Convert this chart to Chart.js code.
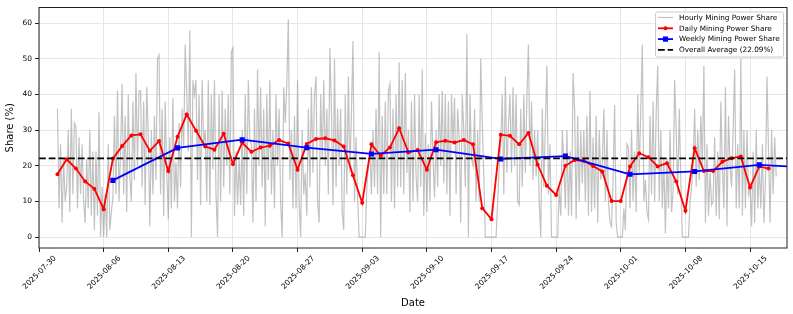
<!DOCTYPE html>
<html lang="en">

<head>
  <meta charset="UTF-8" />
  <title>Mining Power Share</title>
  <script src="https://cdn.jsdelivr.net/npm/chart.js"></script>
  <style>
    body {
      margin: 0;
      background: #fff;
    }

    #grafico {
      display: block;
    }
  </style>
</head>

<body>
  <canvas id="grafico" width="793" height="314"></canvas>

  <script>
    // Day 0 of the x axis is 2025-07-30 (UTC)
    const startDate = Date.UTC(2025, 6, 30);
    const xMin = 0;
    const xMax = 81;
    const xTicks = [0, 7, 14, 21, 28, 35, 42, 49, 56, 63, 70, 77];
    const yTicks = [0, 10, 20, 30, 40, 50, 60];
    const yMin = -3.07;
    const yMax = 64.37;

    const avgShare = 22.09;

    // Hourly share, read every 4 hours from 2025-08-01 00:00 (day 2), 6 values per day
    const hourlyStartDay = 2;
    const hourlyStep = 1 / 6;
    const hourlyShare = [
      36, 8, 26, 4, 22, 10, 14, 30, 7, 36, 12, 32,
      31, 8, 28, 12, 26, 10, 4, 22, 8, 30, 6, 24,
      2, 24, 6, 35, 0, 14, 0, 12, 0, 26, 2, 7,
      11, 34, 12, 41, 10, 24, 43, 12, 34, 7, 40, 17,
      10, 38, 16, 46, 20, 41, 41, 14, 38, 9, 42, 29,
      3, 30, 12, 34, 16, 50, 51, 12, 36, 6, 38, 18,
      5, 28, 8, 39, 10, 21, 8, 32, 14, 36, 25, 54,
      40, 24, 58, 0, 44, 40, 44, 16, 40, 9, 44, 26,
      30, 10, 44, 9, 40, 19, 44, 12, 0, 40, 10, 41,
      14, 36, 20, 40, 12, 52, 53, 6, 24, 9, 22, 9,
      30, 6, 40, 12, 44, 27, 26, 4, 36, 10, 47, 20,
      42, 14, 36, 3, 40, 16, 44, 12, 30, 8, 40, 20,
      36, 10, 0, 42, 32, 43, 61, 16, 30, 8, 34, 8,
      44, 10, 0, 30, 12, 18, 6, 36, 14, 42, 18, 40,
      45, 10, 4, 40, 22, 44, 20, 36, 12, 53, 36, 9,
      50, 14, 36, 20, 36, 7, 2, 40, 12, 45, 18, 35,
      55, 10, 28, 11, 0, 0, 0, 0, 0, 14, 20, 24,
      12, 30, 14, 36, 12, 52, 0, 34, 12, 38, 12, 41,
      43, 10, 36, 8, 40, 14, 49, 14, 44, 12, 46, 18,
      30, 7, 38, 10, 40, 17, 10, 40, 14, 47, 6, 29,
      7, 26, 10, 38, 22, 11, 30, 14, 40, 20, 41, 15,
      40, 12, 38, 6, 40, 26, 39, 12, 36, 28, 4, 40,
      30, 14, 57, 0, 40, 22, 20, 36, 10, 30, 10, 50,
      32, 17, 0, 0, 0, 0, 0, 0, 0, 0, 10, 20,
      26, 40, 12, 45, 18, 31, 40, 18, 42, 20, 40, 10,
      9, 36, 14, 40, 18, 39, 54, 20, 38, 16, 30, 17,
      30, 10, 0, 36, 14, 32, 48, 12, 26, 0, 0, 0,
      0, 0, 14, 6, 30, 21, 8, 30, 6, 24, 6, 46,
      36, 5, 34, 10, 30, 15, 30, 10, 34, 6, 41, 7,
      28, 8, 34, 4, 30, 16, 20, 36, 10, 30, 10, 4,
      3, 16, 37, 4, 0, 0, 0, 0, 8, 2, 26, 25,
      8, 30, 10, 24, 7, 40, 18, 36, 54, 10, 16, 7,
      5, 34, 12, 38, 10, 35, 48, 10, 30, 8, 22, 1,
      22, 8, 30, 7, 13, 44, 30, 12, 36, 16, 0, 0,
      0, 0, 0, 10, 14, 20, 36, 14, 30, 16, 34, 20,
      48, 4, 26, 6, 18, 9, 10, 28, 6, 24, 5, 38,
      20, 8, 42, 3, 34, 20, 14, 30, 47, 8, 26, 8,
      50, 6, 30, 8, 30, 12, 14, 3, 24, 4, 30, 8,
      20, 8, 26, 4, 16, 45, 24, 4, 30, 12, 28, 17
    ];

    // Daily share, one value per day from 2025-08-01 (day 2) to 2025-10-17
    const dailyStartDay = 2;
    const dailyShare = [
      17.6, 21.8, 19.2, 15.6, 13.5, 7.8, 22.0, 25.5, 28.5, 28.8,
      24.2, 26.9, 18.5, 28.1, 34.4, 29.8, 25.4, 24.5, 29.0, 20.5,
      26.5, 23.9, 25.1, 25.6, 27.2, 26.2, 18.9, 26.1, 27.5, 27.7,
      27.1,
      25.4, 17.3, 9.6, 26.0, 22.8, 25.1, 30.5, 23.7, 24.4, 18.9,
      26.6, 27.0, 26.5, 27.2, 26.0, 8.1, 5.0, 28.7, 28.4, 26.0,
      29.2, 20.3, 14.4, 11.8, 20.0, 21.6, 21.4, 19.9, 18.4, 10.1,
      10.1, 19.8, 23.5, 22.4, 19.8, 20.7, 15.6, 7.4, 24.9, 18.5,
      18.5, 21.1, 22.1, 22.6, 13.9, 19.8, 19.2
    ];

    // Weekly share, every 7 days from 2025-08-07 (day 8)
    const weeklyStartDay = 8;
    const weeklyShare = [15.9, 25.0, 27.3, 25.05, 23.3, 24.5, 21.9, 22.7, 17.6, 18.4, 20.25, 19.3];

    const hourlyPts = hourlyShare.map((v, i) => ({ x: hourlyStartDay + i * hourlyStep, y: v }));
    const dailyPts = dailyShare.map((v, i) => ({ x: dailyStartDay + i, y: v }));
    const weeklyPts = weeklyShare.map((v, i) => ({ x: weeklyStartDay + i * 7, y: v }));
    const avgPts = [{ x: xMin, y: avgShare }, { x: xMax, y: avgShare }];

    function diaParaData(d) {
      return new Date(startDate + d * 86400000).toISOString().slice(0, 10);
    }

    const fonte = 'DejaVu Sans';

    // legenda no estilo matplotlib, dentro da area do grafico
    const legendaPlugin = {
      id: 'legenda',
      afterDraw(chart) {
        const c = chart.ctx;
        const area = chart.chartArea;
        const w = 128, h = 45;
        const x0 = area.right - 4 - w;
        const y0 = area.top + 4;
        c.save();
        c.fillStyle = 'rgba(255,255,255,0.85)';
        c.strokeStyle = '#cccccc';
        c.lineWidth = 1;
        c.beginPath();
        c.roundRect(x0 + 0.5, y0 + 0.5, w, h, 2);
        c.fill();
        c.stroke();
        c.font = '7.3px ' + fonte;
        c.textBaseline = 'middle';
        chart.data.datasets.forEach((ds, i) => {
          const y = y0 + 6 + i * 10.8;
          const lx = x0 + 3;
          c.strokeStyle = ds.borderColor;
          c.lineWidth = Math.min(ds.borderWidth, 1.8);
          c.setLineDash(ds.borderDash || []);
          c.beginPath();
          c.moveTo(lx, y);
          c.lineTo(lx + 15, y);
          c.stroke();
          c.setLineDash([]);
          if (ds.pointRadius > 0) {
            c.fillStyle = ds.borderColor;
            if (ds.pointStyle === 'rect') {
              c.fillRect(lx + 7.5 - 2.6, y - 2.6, 5.2, 5.2);
            } else {
              c.beginPath();
              c.arc(lx + 7.5, y, 2, 0, Math.PI * 2);
              c.fill();
            }
          }
          c.fillStyle = '#000';
          c.fillText(ds.label, lx + 21, y + 0.5);
        });
        c.restore();
      }
    };

    // moldura do eixo (spines)
    const molduraPlugin = {
      id: 'moldura',
      afterDatasetsDraw(chart) {
        const c = chart.ctx;
        const a = chart.chartArea;
        c.save();
        c.strokeStyle = '#222';
        c.lineWidth = 1;
        c.strokeRect(a.left, a.top, a.right - a.left, a.bottom - a.top);
        c.restore();
      }
    };

    new Chart(document.getElementById('grafico'), {
      type: 'line',
      data: {
        datasets: [{
          label: 'Hourly Mining Power Share',
          data: hourlyPts,
          borderColor: 'rgba(128, 128, 128, 0.48)',
          borderWidth: 1.2,
          pointRadius: 0,
          order: 4
        }, {
          label: 'Daily Mining Power Share',
          data: dailyPts,
          borderColor: '#ff0000',
          backgroundColor: '#ff0000',
          borderWidth: 1.8,
          pointRadius: 2,
          pointBorderWidth: 0,
          pointStyle: 'circle',
          order: 3
        }, {
          label: 'Weekly Mining Power Share',
          data: weeklyPts,
          borderColor: '#0000ff',
          backgroundColor: '#0000ff',
          borderWidth: 1.8,
          pointRadius: 3.6,
          pointBorderWidth: 0,
          pointStyle: 'rect',
          order: 2
        }, {
          label: 'Overall Average (' + avgShare.toFixed(2) + '%)',
          data: avgPts,
          borderColor: '#000000',
          borderWidth: 1.8,
          borderDash: [6.8, 2.9],
          pointRadius: 0,
          order: 1
        }]
      },
      options: {
        responsive: false,
        animation: false,
        devicePixelRatio: 1,
        layout: {
          padding: { left: 0, top: 5, right: 6, bottom: 0 }
        },
        plugins: {
          legend: { display: false },
          tooltip: { enabled: false }
        },
        scales: {
          x: {
            type: 'linear',
            min: xMin,
            max: xMax,
            afterBuildTicks: s => { s.ticks = xTicks.map(v => ({ value: v })); },
            afterFit: s => { s.height = 66; },
            grid: { color: '#e6e6e6', tickColor: '#222', tickLength: 4 },
            border: { display: false },
            ticks: {
              minRotation: 45,
              maxRotation: 45,
              labelOffset: 16,
              padding: 2,
              color: '#000',
              font: { family: fonte, size: 7.5 },
              callback: v => diaParaData(v)
            },
            title: {
              display: true,
              text: 'Date',
              color: '#000',
              font: { family: fonte, size: 10 },
              padding: { top: 4, bottom: 5 }
            }
          },
          y: {
            min: yMin,
            max: yMax,
            afterBuildTicks: s => { s.ticks = yTicks.map(v => ({ value: v })); },
            afterFit: s => { s.width = 39; },
            grid: { color: '#e6e6e6', tickColor: '#222', tickLength: 4 },
            border: { display: false },
            ticks: {
              padding: 3,
              color: '#000',
              font: { family: fonte, size: 7.5 }
            },
            title: {
              display: true,
              text: 'Share (%)',
              color: '#000',
              font: { family: fonte, size: 10 },
              padding: { top: 4, bottom: 4 }
            }
          }
        }
      },
      plugins: [molduraPlugin, legendaPlugin]
    });
  </script>
</body>

</html>
